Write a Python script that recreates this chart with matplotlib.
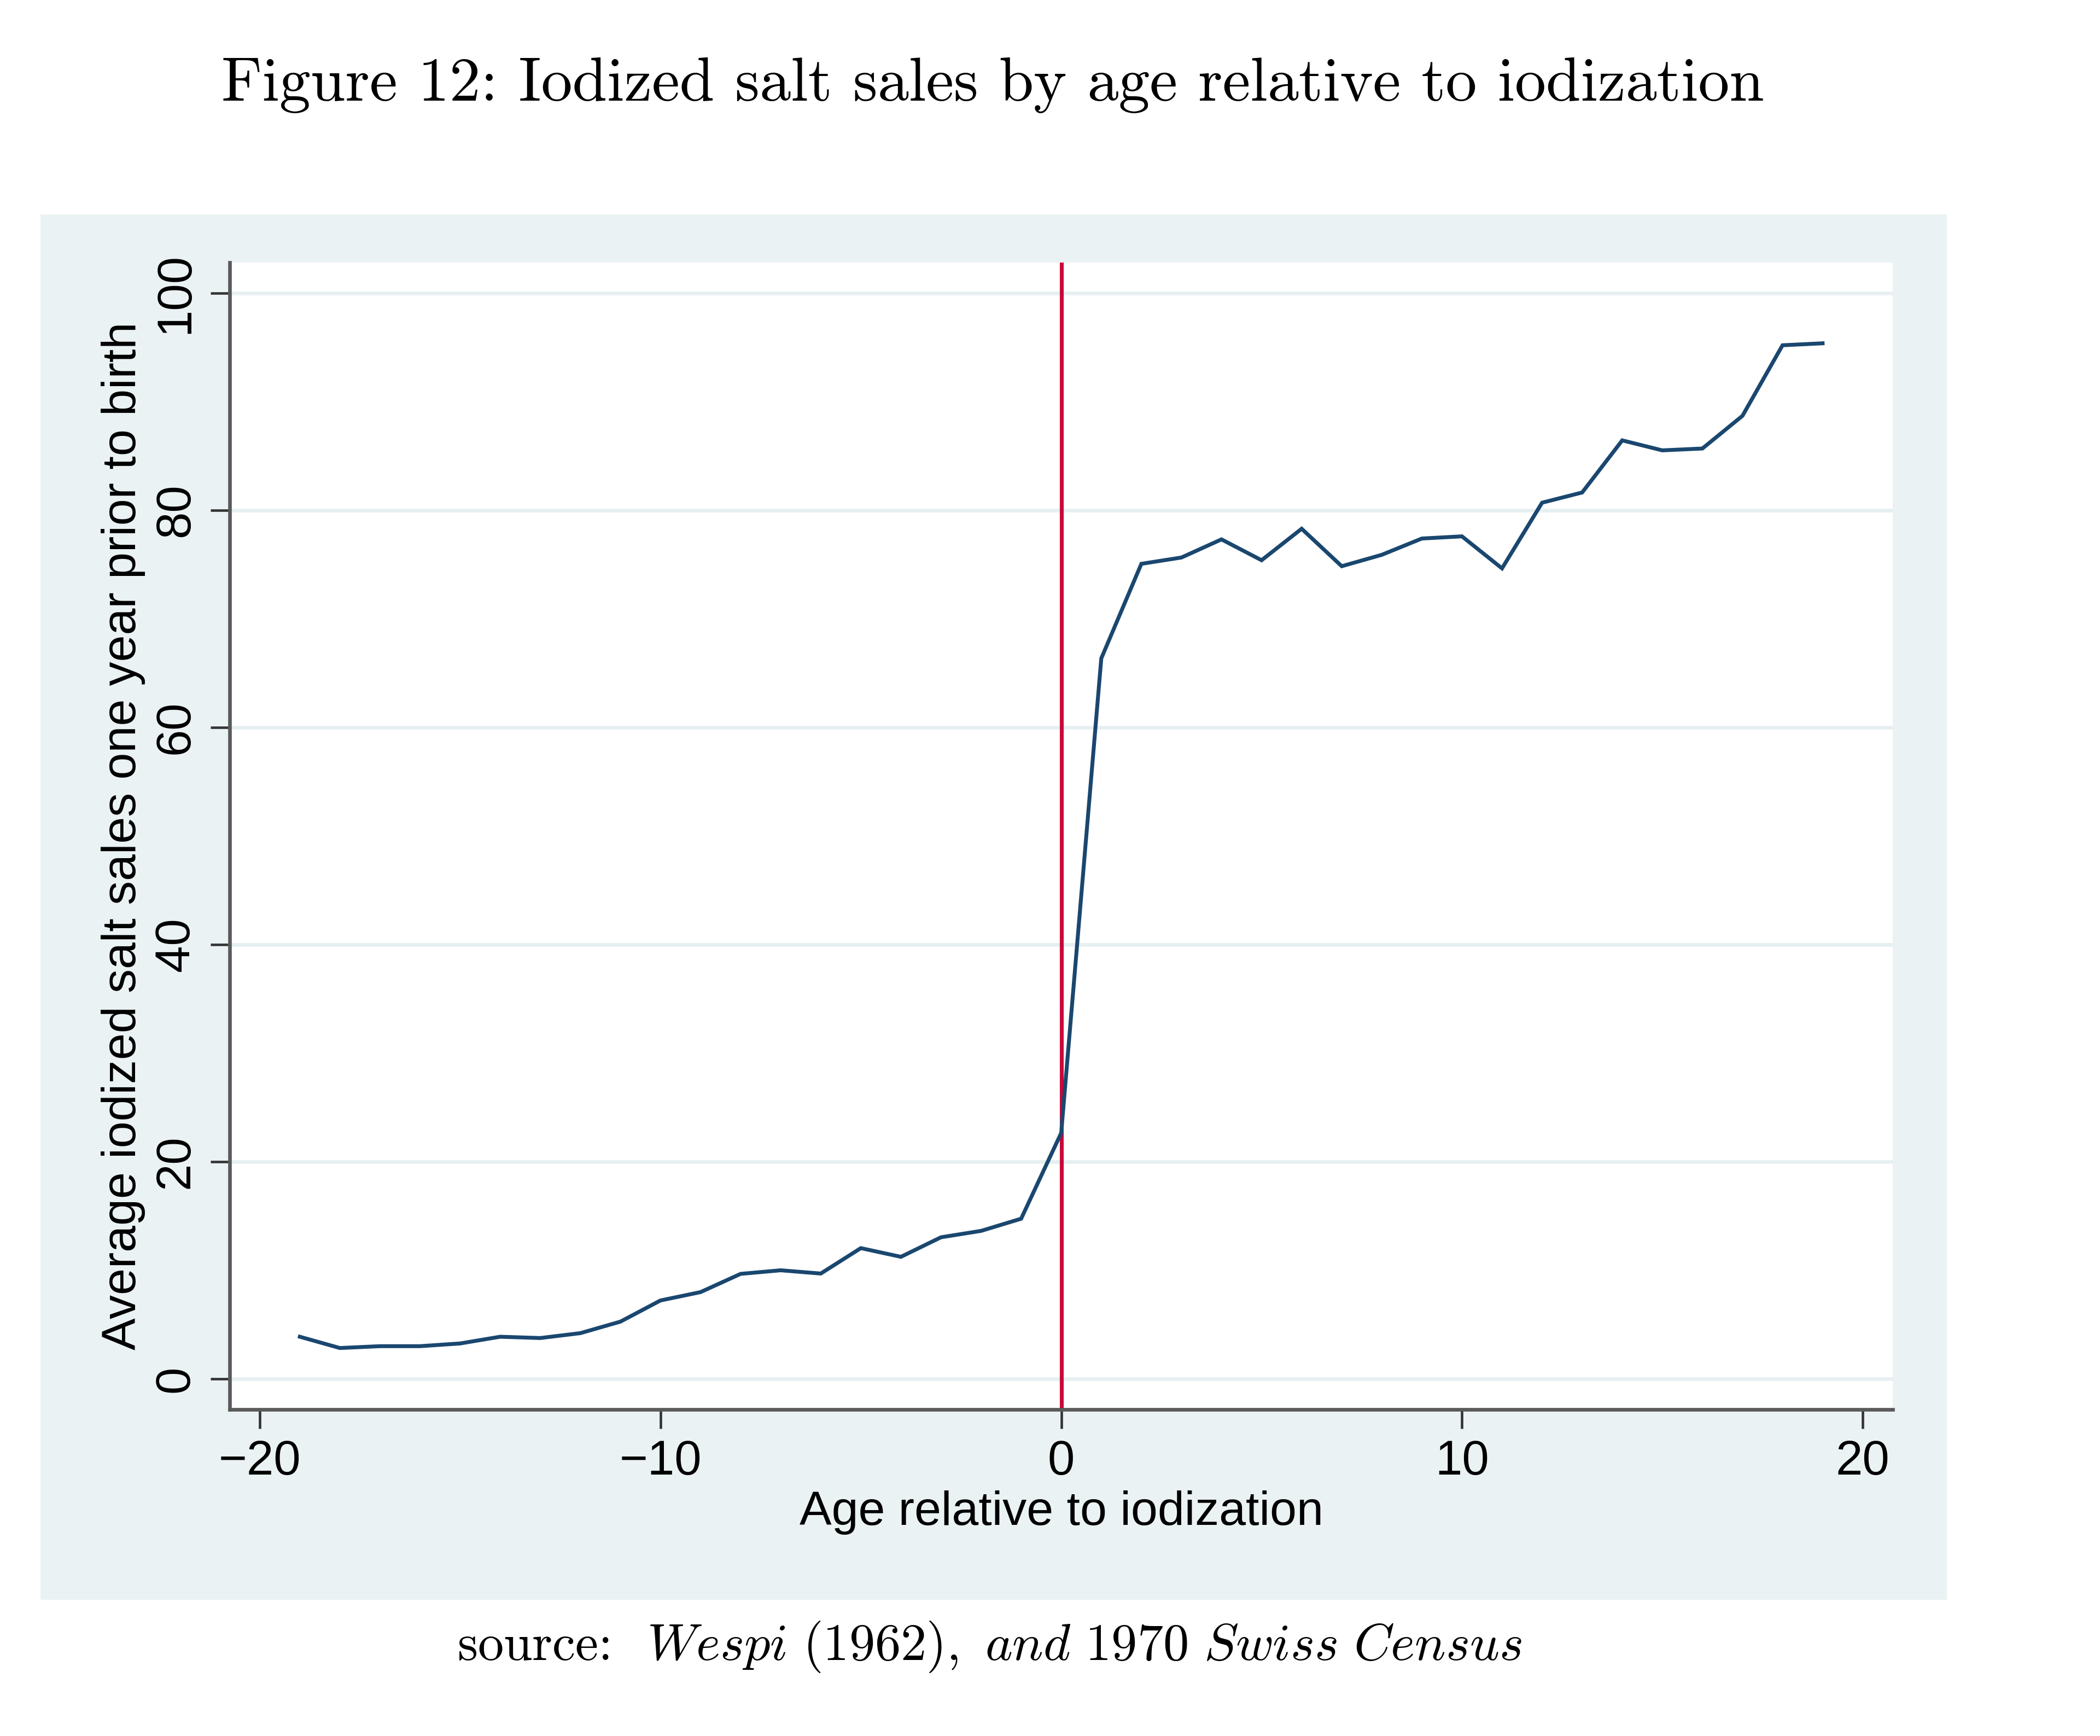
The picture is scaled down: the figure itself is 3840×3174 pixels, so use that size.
import matplotlib
matplotlib.use('Agg')
import matplotlib.pyplot as plt
from matplotlib.patches import Rectangle

# ---- data ----
age = list(range(-19, 20))
sales = [3.88, 2.84, 3.01, 3.01, 3.26, 3.88, 3.76, 4.21, 5.27, 7.22,
         7.99, 9.67, 10.0, 9.7, 12.04, 11.24, 13.04, 13.63, 14.75,
         22.65,
         66.36, 75.07, 75.65, 77.32, 75.4, 78.3, 74.85, 75.9, 77.4, 77.6,
         74.65, 80.7, 81.64, 86.44, 85.52, 85.69, 88.7, 95.2, 95.38]
xticks = [-20, -10, 0, 10, 20]
yticks = [0, 20, 40, 60, 80, 100]
iodization_age = 0

title = "Figure 12: Iodized salt sales by age relative to iodization"
xlabel = "Age relative to iodization"
ylabel = "Average iodized salt sales one year prior to birth"

W, H = 3840, 3174
plt.rcParams['mathtext.fontset'] = 'cm'
plt.rcParams['font.family'] = ['Liberation Sans', 'DejaVu Sans']

fig = plt.figure(figsize=(W / 300, H / 300), dpi=300)
fig.patch.set_facecolor('white')

# graph region (light bluish gray panel)
px0, px1, py0, py1 = 74, 3560, 392, 2925
fig.patches.append(Rectangle((px0 / W, 1 - py1 / H), (px1 - px0) / W, (py1 - py0) / H,
                             transform=fig.transFigure, facecolor='#EAF2F3',
                             edgecolor='none', zorder=-1))

# plot region
ax0, ax1, ay0, ay1 = 420, 3461, 480, 2577
ax = fig.add_axes([ax0 / W, 1 - ay1 / H, (ax1 - ax0) / W, (ay1 - ay0) / H])
ax.set_facecolor('white')

ax.set_xlim(-20.75, 20.75)
ax.set_ylim(-2.82, 102.82)
ax.set_xticks(xticks)
ax.set_yticks(yticks)
ax.set_xticklabels([f"\u2212{abs(t)}" if t < 0 else str(t) for t in xticks])
ax.set_yticklabels([str(t) for t in yticks], rotation=90, va='center')

ax.grid(axis='y', color='#E6EFF1', linewidth=1.6, zorder=0)
ax.set_axisbelow(True)

ax.axvline(iodization_age, color='#C8083A', linewidth=1.7, zorder=2)
ax.plot(age, sales, color='#1A476F', linewidth=1.7, zorder=3,
        solid_joinstyle='miter')

for s in ['top', 'right']:
    ax.spines[s].set_visible(False)
for s in ['left', 'bottom']:
    ax.spines[s].set_color('#5A5A5A')
    ax.spines[s].set_linewidth(1.6)

ax.tick_params(axis='both', direction='out', length=8.5, width=1.1,
               color='#333333', labelsize=21.3, labelcolor='black')
ax.tick_params(axis='x', pad=4.4)
ax.tick_params(axis='y', pad=5.0)

# axis titles
fig.text(((ax0 + ax1) / 2) / W, 1 - 2788 / H, xlabel, ha='center', va='baseline',
         fontsize=21.1, color='black')
fig.text(266 / W, 1 - ((ay0 + ay1) / 2) / H, ylabel, rotation=90, ha='right',
         va='center', fontsize=21.1, color='black')

# figure title and source note (LaTeX-like serif)
fig.text(1815 / W, 1 - 184 / H, title, ha='center', va='baseline',
         fontsize=27.4, family='cmr10', color='black')
fig.text(1810 / W, 1 - 3035 / H,
         r"source:  $\mathit{Wespi\ (1962),\ and\ 1970\ Swiss\ Census}$",
         ha='center', va='baseline', fontsize=22.7, family='cmr10', color='black')

fig.savefig('out.png', dpi=300, facecolor='white')
